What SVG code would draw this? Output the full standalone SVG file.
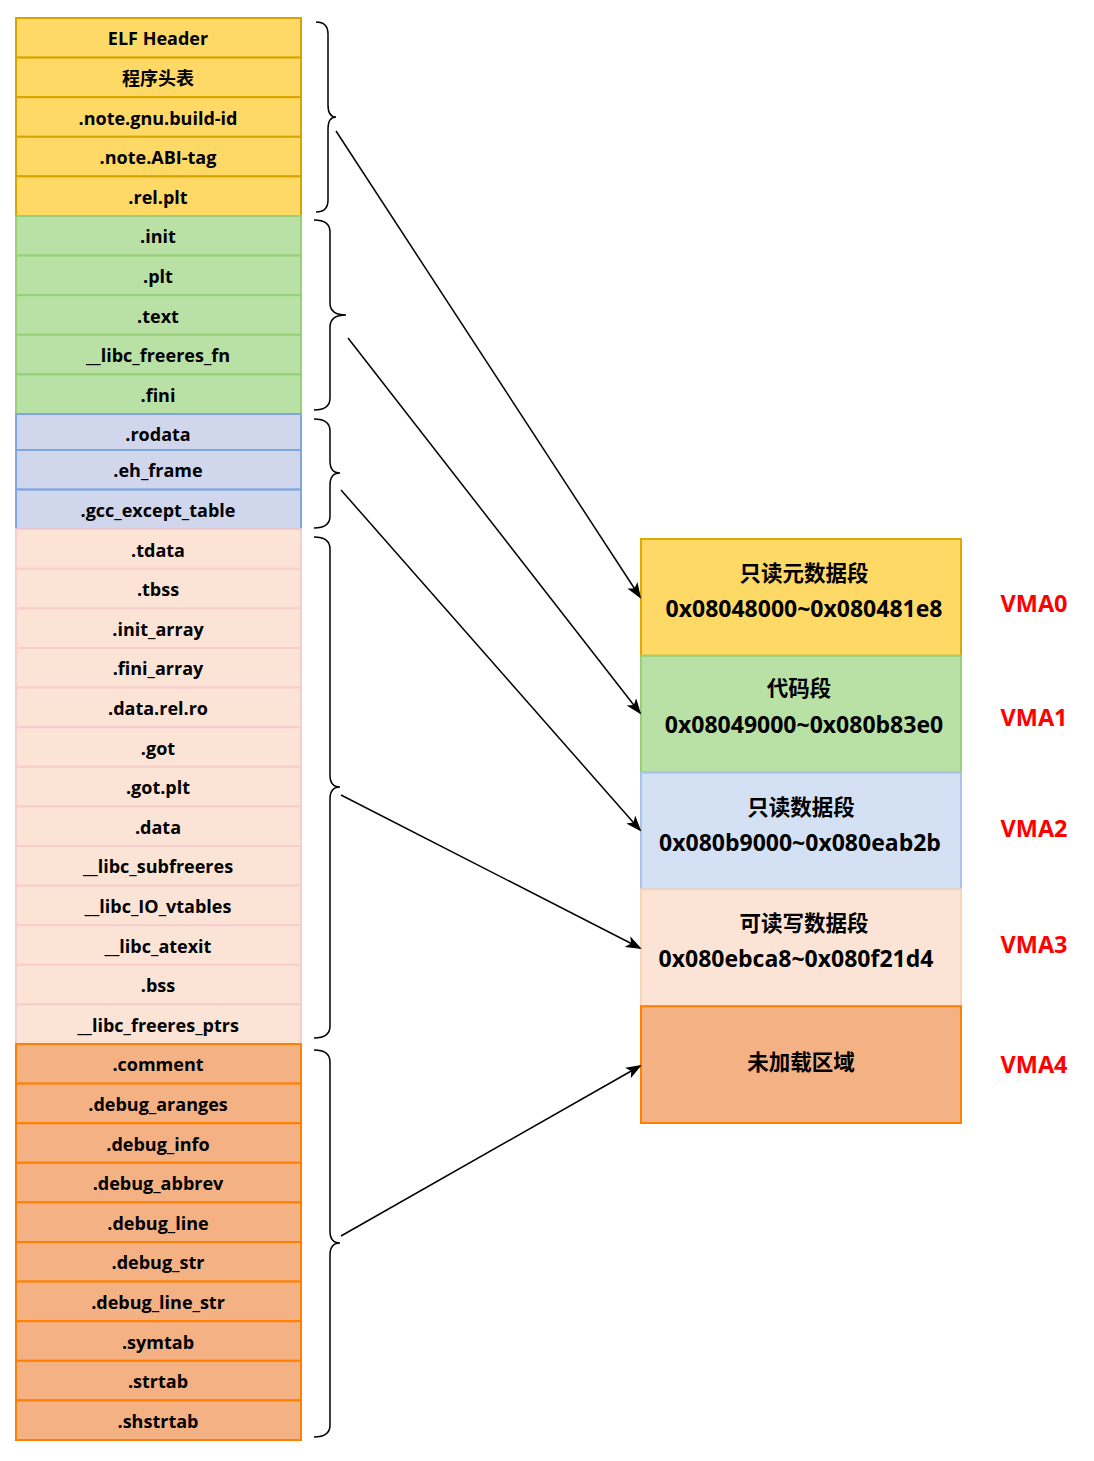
<svg xmlns="http://www.w3.org/2000/svg" width="1094" height="1461" viewBox="0 0 1094 1461">
<style>
text{font-family:"Open Sans","Noto Sans CJK SC",sans-serif;font-weight:bold;text-anchor:middle;fill:#000}
.s{font-size:18px}
.b{font-size:21.5px}
.a{font-size:23px}
.v{font-size:23.5px;fill:#ff0000}
.y{fill:#ffd966;stroke:#d6a300;stroke-width:2}
.g{fill:#b9e0a5;stroke:#97d077;stroke-width:2}
.bl{fill:#d0d6ec;stroke:#7ea6e0;stroke-width:2}
.p{fill:#fbe4d6;stroke:#f8cecc;stroke-width:2}
.o{fill:#f4b183;stroke:#ff8000;stroke-width:2}
.rb{fill:#d4e1f5;stroke:#a9c4eb;stroke-width:2}
.ry{fill:#ffd966;stroke:#e0a800;stroke-width:2}
.rp{fill:#fbe4d6;stroke:#fbd3b5;stroke-width:2}
.br{fill:none;stroke:#000;stroke-width:1.5}
.ar{fill:none;stroke:#000;stroke-width:1.5;marker-end:url(#ah)}
</style>
<defs>
<marker id="ah" markerWidth="16" markerHeight="12" refX="14" refY="6" orient="auto" markerUnits="userSpaceOnUse">
<path d="M0,0 L16,6 L0,12 L4,6 Z" fill="#000"/>
</marker>
</defs>
<g id="sections">
<g id="n-elf"><rect class="y" x="16" y="18" width="285" height="39.6"/><text class="s" x="158" y="45">ELF Header</text></g>
<g id="n-phdr"><rect class="y" x="16" y="57.6" width="285" height="39.6"/><text class="s" x="158" y="85">程序头表</text></g>
<g id="n-note-gnu"><rect class="y" x="16" y="97.2" width="285" height="39.6"/><text class="s" x="158" y="125">.note.gnu.build-id</text></g>
<g id="n-note-abi"><rect class="y" x="16" y="136.8" width="285" height="39.6"/><text class="s" x="158" y="164">.note.ABI-tag</text></g>
<g id="n-relplt"><rect class="y" x="16" y="176.4" width="285" height="39.6"/><text class="s" x="158" y="204">.rel.plt</text></g>
<g id="n-init"><rect class="g" x="16" y="216" width="285" height="39.6"/><text class="s" x="158" y="243">.init</text></g>
<g id="n-plt"><rect class="g" x="16" y="255.6" width="285" height="39.6"/><text class="s" x="158" y="283">.plt</text></g>
<g id="n-text"><rect class="g" x="16" y="295.2" width="285" height="39.6"/><text class="s" x="158" y="323">.text</text></g>
<g id="n-libcfn"><rect class="g" x="16" y="334.8" width="285" height="39.6"/><text class="s" x="158" y="362">__libc_freeres_fn</text></g>
<g id="n-fini"><rect class="g" x="16" y="374.4" width="285" height="39.6"/><text class="s" x="158" y="402">.fini</text></g>
<g id="n-rodata"><rect class="bl" x="16" y="414" width="285" height="36"/><text class="s" x="158" y="441">.rodata</text></g>
<g id="n-eh"><rect class="bl" x="16" y="450" width="285" height="39.6"/><text class="s" x="158" y="477">.eh_frame</text></g>
<g id="n-gcc"><rect class="bl" x="16" y="489.6" width="285" height="39.6"/><text class="s" x="158" y="517">.gcc_except_table</text></g>
<g id="n-tdata"><rect class="p" x="16" y="529.2" width="285" height="39.6"/><text class="s" x="158" y="557">.tdata</text></g>
<g id="n-tbss"><rect class="p" x="16" y="568.8" width="285" height="39.6"/><text class="s" x="158" y="596">.tbss</text></g>
<g id="n-initarr"><rect class="p" x="16" y="608.4" width="285" height="39.6"/><text class="s" x="158" y="636">.init_array</text></g>
<g id="n-finiarr"><rect class="p" x="16" y="648" width="285" height="39.6"/><text class="s" x="158" y="675">.fini_array</text></g>
<g id="n-datarelro"><rect class="p" x="16" y="687.6" width="285" height="39.6"/><text class="s" x="158" y="715">.data.rel.ro</text></g>
<g id="n-got"><rect class="p" x="16" y="727.2" width="285" height="39.6"/><text class="s" x="158" y="755">.got</text></g>
<g id="n-gotplt"><rect class="p" x="16" y="766.8" width="285" height="39.6"/><text class="s" x="158" y="794">.got.plt</text></g>
<g id="n-data"><rect class="p" x="16" y="806.4" width="285" height="39.6"/><text class="s" x="158" y="834">.data</text></g>
<g id="n-subfree"><rect class="p" x="16" y="846" width="285" height="39.6"/><text class="s" x="158" y="873">__libc_subfreeres</text></g>
<g id="n-iovt"><rect class="p" x="16" y="885.6" width="285" height="39.6"/><text class="s" x="158" y="913">__libc_IO_vtables</text></g>
<g id="n-atexit"><rect class="p" x="16" y="925.2" width="285" height="39.6"/><text class="s" x="158" y="953">__libc_atexit</text></g>
<g id="n-bss"><rect class="p" x="16" y="964.8" width="285" height="39.6"/><text class="s" x="158" y="992">.bss</text></g>
<g id="n-freeptrs"><rect class="p" x="16" y="1004.4" width="285" height="39.6"/><text class="s" x="158" y="1032">__libc_freeres_ptrs</text></g>
<g id="n-comment"><rect class="o" x="16" y="1044" width="285" height="39.6"/><text class="s" x="158" y="1071">.comment</text></g>
<g id="n-dar"><rect class="o" x="16" y="1083.6" width="285" height="39.6"/><text class="s" x="158" y="1111">.debug_aranges</text></g>
<g id="n-dinfo"><rect class="o" x="16" y="1123.2" width="285" height="39.6"/><text class="s" x="158" y="1151">.debug_info</text></g>
<g id="n-dabbrev"><rect class="o" x="16" y="1162.8" width="285" height="39.6"/><text class="s" x="158" y="1190">.debug_abbrev</text></g>
<g id="n-dline"><rect class="o" x="16" y="1202.4" width="285" height="39.6"/><text class="s" x="158" y="1230">.debug_line</text></g>
<g id="n-dstr"><rect class="o" x="16" y="1242" width="285" height="39.6"/><text class="s" x="158" y="1269">.debug_str</text></g>
<g id="n-dlinestr"><rect class="o" x="16" y="1281.6" width="285" height="39.6"/><text class="s" x="158" y="1309">.debug_line_str</text></g>
<g id="n-symtab"><rect class="o" x="16" y="1321.2" width="285" height="39.6"/><text class="s" x="158" y="1349">.symtab</text></g>
<g id="n-strtab"><rect class="o" x="16" y="1360.8" width="285" height="39.6"/><text class="s" x="158" y="1388">.strtab</text></g>
<g id="n-shstrtab"><rect class="o" x="16" y="1400.4" width="285" height="39.6"/><text class="s" x="158" y="1428">.shstrtab</text></g>
</g>
<g id="braces">
<path class="br" d="M316,22 Q328,22 328,34 L328,105 Q328,117 336,117 Q328,117 328,129 L328,200 Q328,212 316,212"/>
<path class="br" d="M314,220 Q330,220 330,232 L330,303 Q330,315 346,315 Q330,315 330,327 L330,398 Q330,410 314,410"/>
<path class="br" d="M314,419 Q330,419 330,431 L330,461 Q330,473 340,473 Q330,473 330,485 L330,516 Q330,528 314,528"/>
<path class="br" d="M314,537 Q330,537 330,549 L330,775 Q330,787 340,787 Q330,787 330,799 L330,1026 Q330,1038 314,1038"/>
<path class="br" d="M314,1050 Q330,1050 330,1062 L330,1231 Q330,1243 340,1243 Q330,1243 330,1255 L330,1425 Q330,1437 314,1437"/>
</g>
<g id="segments">
<g id="vma0"><rect class="ry" x="641" y="539" width="320" height="116.8"/><text class="b" x="804" y="581">只读元数据段</text><text class="a" x="804" y="617">0x08048000~0x080481e8</text></g>
<g id="vma1"><rect class="g" x="641" y="655.8" width="320" height="116.8"/><text class="b" x="799" y="696">代码段</text><text class="a" x="804" y="733">0x08049000~0x080b83e0</text></g>
<g id="vma2"><rect class="rb" x="641" y="772.6" width="320" height="116.8"/><text class="b" x="801" y="815">只读数据段</text><text class="a" x="800" y="851">0x080b9000~0x080eab2b</text></g>
<g id="vma3"><rect class="rp" x="641" y="889.4" width="320" height="116.8"/><text class="b" x="804" y="931">可读写数据段</text><text class="a" x="796" y="967">0x080ebca8~0x080f21d4</text></g>
<g id="vma4"><rect class="o" x="641" y="1006.2" width="320" height="116.8"/><text class="b" x="801" y="1070">未加载区域</text></g>
</g>
<g id="vma-labels">
<text class="v" x="1034" y="612">VMA0</text>
<text class="v" x="1034" y="726">VMA1</text>
<text class="v" x="1034" y="837">VMA2</text>
<text class="v" x="1034" y="953">VMA3</text>
<text class="v" x="1034" y="1073">VMA4</text>
</g>
<g id="connectors">
<line class="ar" x1="336" y1="131" x2="640" y2="597"/>
<line class="ar" x1="348" y1="338" x2="640" y2="713"/>
<line class="ar" x1="341" y1="490" x2="640" y2="830"/>
<line class="ar" x1="341" y1="795" x2="640" y2="948"/>
<line class="ar" x1="341" y1="1236" x2="640" y2="1066"/>
</g>
</svg>
